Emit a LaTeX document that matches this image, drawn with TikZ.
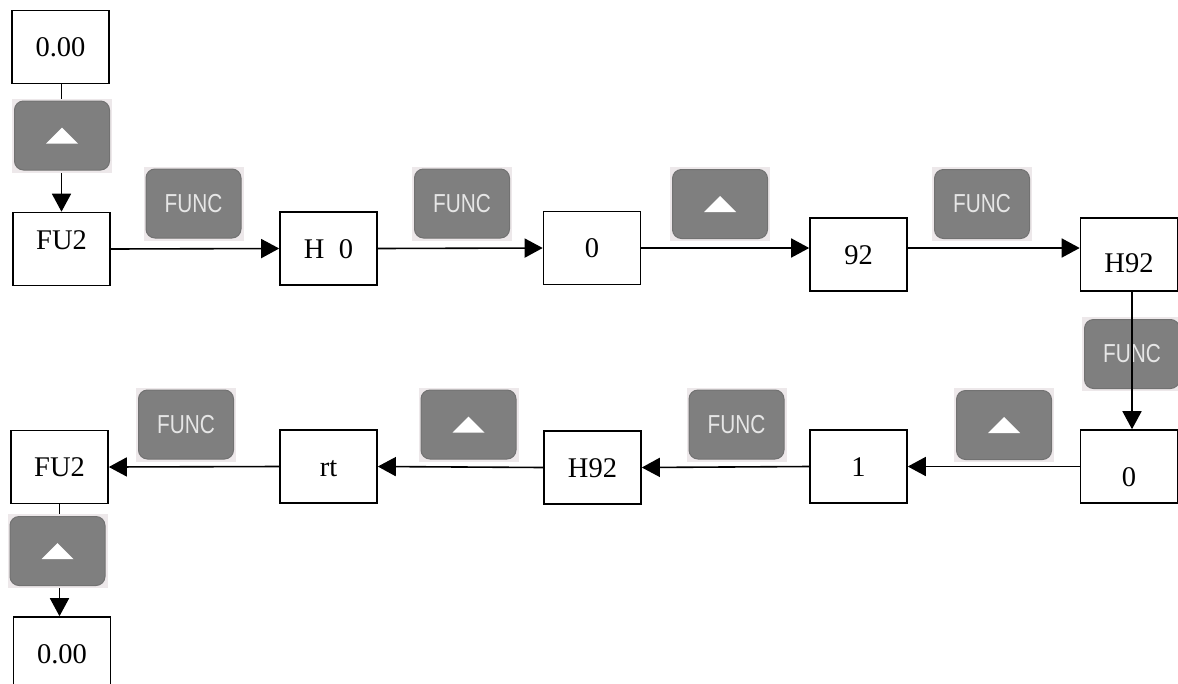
\documentclass[tikz,border=0pt]{standalone}
\usepackage{fontspec}
\usepackage{graphicx}
\setmainfont{Liberation Serif}
\newfontfamily\btnfont{Liberation Sans}
\usetikzlibrary{arrows.meta}
\definecolor{btngray}{HTML}{7F7F7F}
\definecolor{btnedge}{HTML}{727272}
\definecolor{btnframe}{HTML}{EDE8EA}
\definecolor{btntext}{HTML}{E6E6E6}
\newcommand{\btnbody}{\draw[btnedge, fill=btngray, line width=1pt, rounded corners=9pt] ([shift={(2.5pt,-2.5pt)}]path picture bounding box.north west) rectangle ([shift={(-2.5pt,2.5pt)}]path picture bounding box.south east);}
\begin{document}
\begin{tikzpicture}[x=1pt,y=-1pt,
  box/.style={draw=black, line width=1.6pt, fill=white, minimum width=97pt, minimum height=73pt, inner sep=0pt, text height=19pt, text depth=0pt, font=\fontsize{28.5}{30}\selectfont},
  btn/.style={minimum width=100pt, minimum height=74pt, inner sep=0pt, fill=btnframe},
  fbtn/.style={btn, text=btntext, font=\btnfont\fontsize{26}{26}\selectfont, path picture={\btnbody}},
  ubtn/.style={btn, path picture={\btnbody
      \fill[white] ([shift={(-16pt,-8pt)}]path picture bounding box.center) -- ++(32pt,0pt) -- ++(-16pt,16pt) -- cycle;}},
  conn/.style={line width=1.6pt},
  arr/.style={conn, -{Triangle[length=18pt,width=19pt]}}
]
\useasboundingbox (0,0) rectangle (1178,683);
\clip (0,0) rectangle (1178,683);

% boxes
\node[box] (A0) at (60.5,47) {0.00};
\node[box] (A1) at (61.5,249) {\raisebox{9pt}{FU2}};
\node[box] (A2) at (328.5,248.5) {H\ \ 0};
\node[box] (A3) at (592,248) {0};
\node[box] (A4) at (858.5,254.5) {92};
\node[box] (A5) at (1129,254.5) {\raisebox{-8.5pt}{H92}};
\node[box] (B0) at (1129,466.5) {\raisebox{-10pt}{0}};
\node[box] (B1) at (858.5,466.5) {1};
\node[box] (B2) at (592.5,467.5) {H92};
\node[box] (B3) at (328.5,466.5) {rt};
\node[box] (B4) at (59.5,467) {FU2};
\node[box] (B5) at (62,653.5) {0.00};

% connectors hidden behind the left buttons
\draw[arr] (A1.north |- A0.south) -- (A1.north);
\draw[arr] (B4.south) -- (B4.south |- B5.north);

% buttons
\node[ubtn] (U1) at (62,135.5) {};
\node[fbtn] (F1) at (193.5,203.5) {\scalebox{0.8}[1]{FUNC}};
\node[fbtn] (F2) at (462,203.5) {\scalebox{0.8}[1]{FUNC}};
\node[ubtn] (U2) at (720,204) {};
\node[fbtn] (F3) at (982,204) {\scalebox{0.8}[1]{FUNC}};
\node[fbtn] (F4) at (1132,354) {\scalebox{0.8}[1]{FUNC}};
\node[ubtn] (U3) at (1004,425) {};
\node[fbtn] (F5) at (736.5,424.5) {\scalebox{0.8}[1]{FUNC}};
\node[ubtn] (U4) at (468.5,424.5) {};
\node[fbtn] (F6) at (186,424.5) {\scalebox{0.8}[1]{FUNC}};
\node[ubtn] (U5) at (57.5,551) {};

% top row
\draw[arr] (A1.east) -- (A2.west);
\draw[arr] (A2.east) -- (A3.west);
\draw[arr] (A3.east) -- (A3.east -| A4.west);
\draw[arr] (A3.east -| A4.east) -- (A3.east -| A5.west);
% right side
\draw[arr] ([xshift=3pt]A5.south) -- ([xshift=3pt]B0.north);
% bottom row
\draw[arr] (B0.west) -- (B1.east);
\draw[arr] (B1.west) -- (B2.east);
\draw[arr] (B2.west) -- (B3.east);
\draw[arr] (B3.west) -- (B4.east);
\end{tikzpicture}
\end{document}
